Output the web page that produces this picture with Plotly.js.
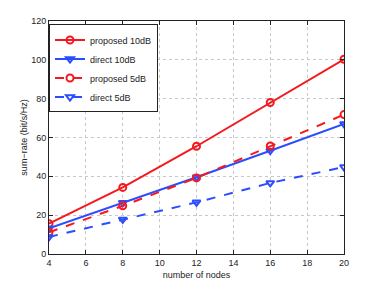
<!DOCTYPE html>
<html><head><meta charset="utf-8">
<script src="https://cdn.plot.ly/plotly-3.0.1.min.js"></script>
<style>html,body{margin:0;padding:0;background:#fff;}#chart{width:380px;height:286px;}</style>
</head><body><div id="chart"></div>
<script>
const nodes = [4, 8, 12, 16, 20];
const proposed10 = [15.6, 34.3, 55.5, 78, 100.3];
const direct10 = [13.2, 26.4, 39.5, 53.2, 67];
const proposed5 = [11.2, 24.8, 39.2, 55.6, 71.8];
const direct5 = [8.8, 17.8, 26.6, 36.6, 44.8];
const seriesNames = ['proposed 10dB', 'direct 10dB', 'proposed 5dB', 'direct 5dB'];
const xTicks = [4, 6, 8, 10, 12, 14, 16, 18, 20];
const yTicks = [0, 20, 40, 60, 80, 100, 120];

const RED = '#f5191e', BLUE = '#2c4cff';
function tr(y, name, color, dash, sym) {
  return {x: nodes, y: y, name: name, type: 'scatter', mode: 'lines+markers',
    line: {color: color, width: 2, dash: dash},
    marker: {symbol: sym, size: 7, color: color, line: {color: color, width: 2}}};
}
const data = [
  tr(proposed10, seriesNames[0], RED, 'solid', 'circle-open'),
  tr(direct10, seriesNames[1], BLUE, 'solid', 'triangle-down-open'),
  tr(proposed5, seriesNames[2], RED, 'dash', 'circle-open'),
  tr(direct5, seriesNames[3], BLUE, 'dash', 'triangle-down-open')
];
const ax = {
  showline: true, linecolor: '#222', linewidth: 1, mirror: 'allticks',
  ticks: 'inside', ticklen: 4, tickcolor: '#222',
  showgrid: true, gridcolor: '#c8c8c8', griddash: 'dot', gridwidth: 1,
  zeroline: false, tickfont: {family: 'Liberation Sans, Arial', size: 9, color: '#222'}
};
const layout = {
  width: 380, height: 286,
  margin: {l: 49, r: 36, t: 21, b: 32},
  paper_bgcolor: '#fff', plot_bgcolor: '#fff',
  font: {family: 'Liberation Sans, Arial', size: 9, color: '#222'},
  xaxis: Object.assign({}, ax, {range: [4, 20], tickvals: xTicks, ticktext: xTicks.map(String),
    title: {text: 'number of nodes', font: {size: 9}, standoff: 4}}),
  yaxis: Object.assign({}, ax, {range: [0, 120], tickvals: yTicks, ticktext: yTicks.map(String),
    title: {text: 'sum\u2212rate (bit/s/Hz)', font: {size: 9}, standoff: 2}}),
  showlegend: true,
  legend: {x: 0, y: 0.985, xanchor: 'left', yanchor: 'top', bgcolor: '#fff',
    bordercolor: '#222', borderwidth: 1, font: {size: 9, color: '#222'},
    tracegroupgap: 0, itemwidth: 30}
};
Plotly.newPlot('chart', data, layout, {displayModeBar: false, staticPlot: true});
</script></body></html>
